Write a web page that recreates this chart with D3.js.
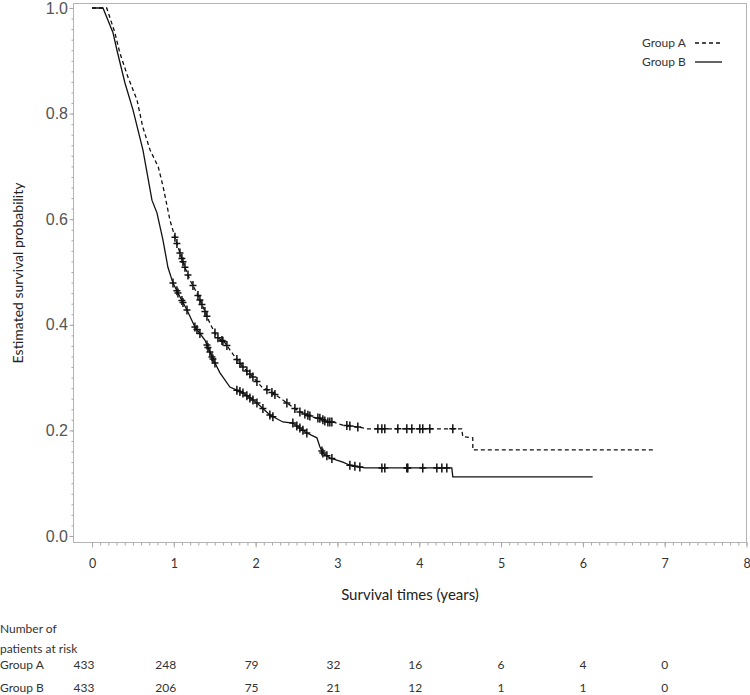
<!DOCTYPE html>
<html><head><meta charset="utf-8">
<script src="https://cdn.jsdelivr.net/npm/d3@7"></script>
<style>body{margin:0;background:#fff;} svg{display:block;}</style>
</head><body>
<svg id="c" width="750" height="695"></svg>
<script>
// ---------- data ----------
const groups = ["Group A", "Group B"];
const timeTicks = [0, 1, 2, 3, 4, 5, 6, 7, 8];
const survTicks = [0, 0.2, 0.4, 0.6, 0.8, 1.0];
const atRiskA = [433, 248, 79, 32, 16, 6, 4, 0];
const atRiskB = [433, 206, 75, 21, 12, 1, 1, 0];
const riskHeader = ["Number of", "patients at risk"];

// Kaplan–Meier estimates [time (years), survival]
const curveA = [[0,1],[0.18,1],[0.28,0.953],[0.34,0.915],[0.44,0.869],[0.55,0.826],[0.62,0.775],[0.71,0.731],
  [0.81,0.699],[0.87,0.661],[0.953,0.598],[1.014,0.566],[1.075,0.536],[1.136,0.509],[1.197,0.485],[1.283,0.460],
  [1.356,0.434],[1.441,0.403],[1.527,0.377],[1.625,0.366],[1.747,0.339],[1.845,0.320],[1.967,0.301],[2.077,0.282],
  [2.211,0.271],[2.382,0.252],[2.541,0.235],[2.700,0.225],[2.785,0.223],[2.871,0.216],[2.944,0.216],[3.066,0.210],
  [3.274,0.206],[3.359,0.203],[4.52,0.203],[4.532,0.188],[4.654,0.186],[4.655,0.163],[6.88,0.163]];
const curveB = [[0,1],[0.134,1],[0.257,0.953],[0.305,0.920],[0.403,0.858],[0.501,0.807],[0.623,0.731],[0.733,0.636],
  [0.794,0.612],[0.867,0.561],[0.928,0.509],[0.990,0.479],[1.075,0.453],[1.161,0.428],[1.258,0.396],[1.380,0.371],
  [1.466,0.339],[1.564,0.309],[1.686,0.282],[1.845,0.271],[2.016,0.252],[2.174,0.229],[2.333,0.216],[2.455,0.214],
  [2.626,0.195],[2.749,0.186],[2.785,0.169],[2.822,0.157],[2.907,0.148],[3.066,0.140],[3.152,0.134],[3.335,0.129],
  [4.398,0.129],[4.41,0.112],[6.12,0.112]];
// censoring times (years)
const censorA = [1.014,1.038,1.075,1.099,1.112,1.136,1.173,1.234,1.295,1.319,1.344,1.380,1.405,1.503,1.539,1.588,
  1.600,1.649,1.771,1.808,1.845,1.893,1.930,1.967,2.016,2.138,2.199,2.236,2.382,2.480,2.541,2.602,2.639,2.663,
  2.761,2.785,2.822,2.846,2.883,2.907,2.932,3.115,3.152,3.249,3.494,3.543,3.579,3.738,3.848,3.909,4.007,4.043,
  4.129,4.410];
const censorB = [0.990,1.038,1.051,1.099,1.112,1.161,1.258,1.283,1.319,1.405,1.417,1.441,1.466,1.478,1.503,1.771,
  1.808,1.845,1.893,1.930,1.967,2.016,2.089,2.174,2.211,2.455,2.504,2.541,2.578,2.626,2.81,2.822,2.871,2.932,
  3.152,3.213,3.274,3.543,3.579,3.848,3.860,4.043,4.215,4.276,4.337];

// ---------- layout ----------
const svg = d3.select("#c");
const frame = {l: 73.5, t: 3.5, r: 746.5, b: 542.5};
const x = d3.scaleLinear([0, 8], [92, 746.5]);
const y = d3.scaleLinear([0, 1], [536, 8]);
const FONT = "Lato, 'Open Sans', sans-serif";

svg.append("rect").attr("x", frame.l).attr("y", frame.t)
  .attr("width", frame.r - frame.l).attr("height", frame.b - frame.t)
  .attr("fill", "none").attr("stroke", "#b4b4b4").attr("stroke-width", 1);

// x axis minor + major
const minorX = d3.range(0, 80.5, 1).map(d => d / 10);
const gxm = svg.append("g").attr("transform", `translate(0,${frame.b})`)
  .call(d3.axisBottom(x).tickValues(minorX).tickSize(3).tickFormat(""));
const gx = svg.append("g").attr("transform", `translate(0,${frame.b})`)
  .call(d3.axisBottom(x).tickValues(timeTicks).tickSize(5).tickPadding(12).tickFormat(d3.format("d")));
[gxm, gx].forEach(g => { g.select(".domain").remove(); g.selectAll("line").attr("stroke", "#a8a8a8"); });
gx.selectAll("text").attr("font-family", FONT).attr("font-size", 12.5).attr("fill", "#333");

// y axis minor + major
const minorY = d3.range(0, 50.5, 1).map(d => d / 50);
const gym = svg.append("g").attr("transform", `translate(${frame.l},0)`)
  .call(d3.axisLeft(y).tickValues(minorY).tickSize(2).tickFormat(""));
const gy = svg.append("g").attr("transform", `translate(${frame.l},0)`)
  .call(d3.axisLeft(y).tickValues(survTicks).tickSize(4).tickPadding(1.5).tickFormat(d3.format(".1f")));
[gym, gy].forEach(g => { g.select(".domain").remove(); g.selectAll("line").attr("stroke", "#a8a8a8"); });
gy.selectAll("text").attr("font-family", "'Liberation Sans', Arial, sans-serif").attr("font-size", 16).attr("fill", "#555");

// axis titles
svg.append("text").attr("x", (frame.l + frame.r) / 2).attr("y", 600)
  .attr("text-anchor", "middle").attr("font-family", FONT).attr("font-size", 15).attr("fill", "#222")
  .text("Survival times (years)");
svg.append("text").attr("transform", `translate(23,${(frame.t + frame.b) / 2}) rotate(-90)`)
  .attr("text-anchor", "middle").attr("font-family", FONT).attr("font-size", 14).attr("fill", "#222")
  .text("Estimated survival probability");

// curves
const line = d3.line().x(d => x(d[0])).y(d => y(d[1]));
const series = [
  {name: groups[0], curve: curveA, censor: censorA, dash: "4,3"},
  {name: groups[1], curve: curveB, censor: censorB, dash: null}
];
function survAt(curve, t) {
  for (let i = 1; i < curve.length; i++) {
    if (t <= curve[i][0]) {
      const [t0, s0] = curve[i - 1], [t1, s1] = curve[i];
      return t1 === t0 ? s1 : s0 + (s1 - s0) * (t - t0) / (t1 - t0);
    }
  }
  return curve[curve.length - 1][1];
}
series.forEach(s => {
  svg.append("path").datum(s.curve).attr("d", line)
    .attr("fill", "none").attr("stroke", "#111").attr("stroke-width", 1.3)
    .attr("stroke-dasharray", s.dash);
  svg.append("g").selectAll("path").data(s.censor).join("path")
    .attr("d", t => { const px = x(t), py = y(survAt(s.curve, t));
      return `M${px - 3.5},${py}h7M${px},${py - 4.5}v9`; })
    .attr("stroke", "#111").attr("stroke-width", 1.5).attr("fill", "none");
});

// legend
series.forEach((s, i) => {
  const ly = 43 + i * 19;
  svg.append("text").attr("x", 642).attr("y", ly).attr("dy", "0.35em")
    .attr("font-family", FONT).attr("font-size", 12).attr("fill", "#333").text(s.name);
  svg.append("line").attr("x1", 695).attr("x2", 722).attr("y1", ly).attr("y2", ly)
    .attr("stroke", "#111").attr("stroke-width", 1.3).attr("stroke-dasharray", s.dash);
});

// risk table
const rt = svg.append("g").attr("font-family", FONT).attr("font-size", 12).attr("fill", "#333");
riskHeader.forEach((h, i) => rt.append("text").attr("x", 0).attr("y", 629 + i * 20).attr("dy", "0.35em").text(h));
[atRiskA, atRiskB].forEach((row, r) => {
  const ry = 665 + r * 23;
  rt.append("text").attr("x", 0).attr("y", ry).attr("dy", "0.35em").text(groups[r]);
  rt.selectAll(null).data(row).join("text")
    .attr("x", (d, i) => x(timeTicks[i]) - 4 * (String(d).length - 1))
    .attr("y", ry).attr("dy", "0.35em").attr("text-anchor", "middle").text(d => d);
});
</script>
</body></html>
